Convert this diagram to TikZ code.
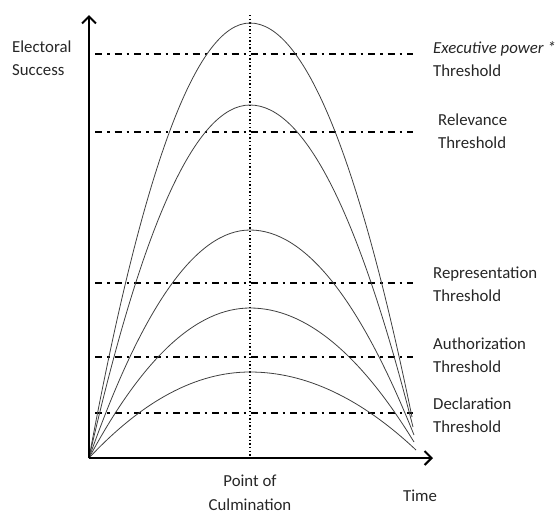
\documentclass[tikz,border=0pt]{standalone}
\usepackage{fontspec}
\setmainfont{Carlito}
\usetikzlibrary{arrows.meta}
% parabolic hump: rises from (O) to its top at x=250, then falls to the given end point
% #1 = top y, #2 = end x, #3 = end y
\newcommand\hump[3]{%
  \draw[curve] (O) .. controls ({89+2/3*80.5},{458-2/3*(458-#1)}) and ({250-2/3*80.5},#1) .. (250,#1)
    .. controls ({250+(#2-250)/3},#1) and ({#2-(#2-250)/3},{#3-2/3*(#3-#1)}) .. (#2,#3);}
\begin{document}
\begin{tikzpicture}[x=1pt,y=-1pt,
  lbl/.style={font=\fontsize{16.8}{23.5}\selectfont, text=black!85, align=left, inner sep=0pt},
  axis/.style={line width=2.6pt, -{Straight Barb[length=7pt,width=14pt,line width=2pt]}},
  curve/.style={line width=0.8pt, black!75},
  level/.style={line width=1.8pt, dash pattern=on 7pt off 5pt on 2.5pt off 5pt},
  culm/.style={line width=1.6pt, dash pattern=on 1.4pt off 2.2pt}]
\useasboundingbox (0,0) rectangle (559,515);

\coordinate (O) at (89,458);
\coordinate (ytip) at (89,15);
\coordinate (xtip) at (433,458);
\coordinate (ctop) at (250,15);
\coordinate (cbot) at (250,458);

% point of culmination
\draw[culm] (ctop) -- (cbot);

% thresholds
\foreach \name/\y in {exe/54, rel/132, rep/283, aut/357, dec/413}{
  \coordinate (\name-a) at (95,\y);
  \coordinate (\name-b) at (413,\y);
  \draw[level] (\name-a) -- (\name-b);
}

% success curves
\hump{23}{412}{417}
\hump{105}{413}{427}
\hump{230}{414}{435}
\hump{308}{414}{442}
\hump{372}{416}{450}

% axes
\draw[axis] (O) -- (ytip);
\draw[axis] (O) -- (xtip);

% labels
\node[lbl, anchor=west] (ylab) at (12,58) {Electoral\\Success};
\node[lbl, anchor=west] (exe) at (433,59) {\textit{Executive power *}\\Threshold};
\node[lbl, anchor=west] (rel) at (438,131) {Relevance\\Threshold};
\node[lbl, anchor=west] (rep) at (433,284) {Representation\\Threshold};
\node[lbl, anchor=west] (aut) at (433,355) {Authorization\\Threshold};
\node[lbl, anchor=west] (dec) at (433,415) {Declaration\\Threshold};
\node[lbl, align=center] (time) at (420,496) {Time};
\node[lbl, align=center] (poc) at (250,493) {Point of\\Culmination};
\end{tikzpicture}
\end{document}
